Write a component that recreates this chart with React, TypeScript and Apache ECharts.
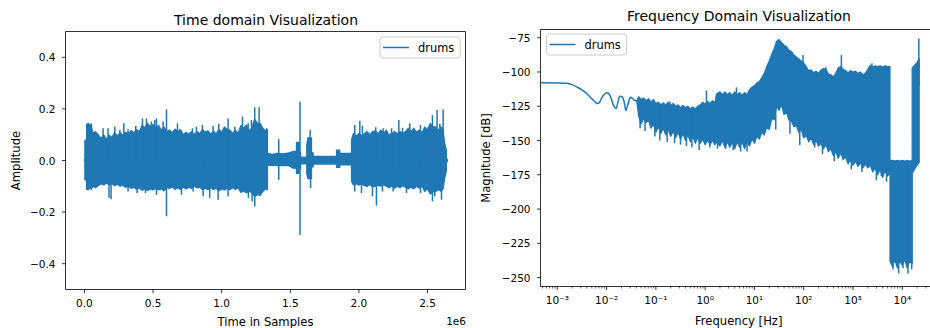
import React, { useEffect, useRef } from 'react';
import * as echarts from 'echarts';

const BLUE = '#1f77b4';
const FONT = 'DejaVu Sans';
const INK = '#000';

// ---------- Time domain (samples, amplitude) ----------
// envelope of the dense waveform; a repeated sample position gives an abrupt step
const TIME_PT = [0, 3000, 3000, 15000, 16000, 30000, 40000, 50000, 60000, 80000, 100000, 120000, 140000, 160000, 180000, 200000, 220000, 240000, 260000, 280000, 300000, 320000, 340000, 360000, 380000, 400000, 420000, 440000, 460000, 480000, 500000, 520000, 540000, 560000, 580000, 600000, 620000, 640000, 660000, 680000, 700000, 720000, 740000, 760000, 780000, 800000, 820000, 840000, 860000, 880000, 900000, 920000, 940000, 960000, 980000, 1000000, 1020000, 1040000, 1060000, 1080000, 1100000, 1120000, 1140000, 1160000, 1180000, 1200000, 1220000, 1240000, 1260000, 1280000, 1300000, 1320000, 1334000,
  1334000, 1370000, 1410000, 1450000, 1490000, 1520000, 1545000, 1545000, 1566000, 1566000, 1576000, 1576000, 1620000, 1620000, 1628000, 1655000, 1655000, 1667000, 1667000, 1750000, 1837000, 1837000, 1861000, 1861000, 1946000,
  1946000, 1960000, 1980000, 2000000, 2020000, 2040000, 2060000, 2080000, 2100000, 2120000, 2140000, 2160000, 2180000, 2200000, 2220000, 2240000, 2260000, 2280000, 2300000, 2320000, 2340000, 2360000, 2380000, 2400000, 2420000, 2440000, 2460000, 2480000, 2500000, 2520000, 2540000, 2560000, 2580000, 2600000, 2614000, 2625000, 2638000, 2638000, 2646000];
const TIME_PT_HI = [0.004, 0.004, 0.078, 0.08, 0.14, 0.144, 0.135, 0.142, 0.105, 0.112, 0.1, 0.085, 0.1, 0.082, 0.098, 0.09, 0.108, 0.095, 0.108, 0.098, 0.11, 0.104, 0.116, 0.108, 0.12, 0.112, 0.136, 0.128, 0.144, 0.132, 0.14, 0.126, 0.136, 0.118, 0.13, 0.112, 0.118, 0.108, 0.122, 0.112, 0.12, 0.1, 0.11, 0.102, 0.112, 0.1, 0.112, 0.104, 0.12, 0.11, 0.115, 0.102, 0.114, 0.104, 0.12, 0.11, 0.13, 0.12, 0.118, 0.105, 0.118, 0.106, 0.136, 0.125, 0.138, 0.116, 0.125, 0.16, 0.145, 0.144, 0.125, 0.115, 0.12,
  0.028, 0.024, 0.028, 0.026, 0.03, 0.035, 0.035, 0.07, 0.07, 0.03, 0.03, 0.013, 0.013, 0.06, 0.088, 0.088, 0.03, 0.03, 0.017, 0.016, 0.017, 0.04, 0.04, 0.028, 0.028,
  0.08, 0.105, 0.095, 0.105, 0.096, 0.104, 0.112, 0.1, 0.112, 0.115, 0.104, 0.118, 0.106, 0.118, 0.098, 0.106, 0.112, 0.104, 0.112, 0.104, 0.112, 0.125, 0.112, 0.125, 0.11, 0.118, 0.108, 0.13, 0.118, 0.144, 0.13, 0.13, 0.118, 0.13, 0.12, 0.068, 0.04, 0.004, 0.004];
const TIME_PT_LO = [-0.004, -0.004, -0.076, -0.07, -0.112, -0.113, -0.105, -0.112, -0.1, -0.106, -0.098, -0.09, -0.095, -0.088, -0.094, -0.09, -0.098, -0.092, -0.1, -0.096, -0.104, -0.1, -0.108, -0.104, -0.112, -0.106, -0.116, -0.11, -0.116, -0.11, -0.114, -0.108, -0.114, -0.11, -0.118, -0.104, -0.108, -0.102, -0.112, -0.106, -0.112, -0.104, -0.11, -0.104, -0.108, -0.1, -0.106, -0.104, -0.113, -0.108, -0.113, -0.106, -0.112, -0.108, -0.118, -0.11, -0.114, -0.108, -0.113, -0.106, -0.112, -0.106, -0.124, -0.118, -0.126, -0.118, -0.125, -0.14, -0.132, -0.135, -0.12, -0.11, -0.113,
  -0.02, -0.018, -0.02, -0.02, -0.02, -0.03, -0.03, -0.05, -0.05, -0.03, -0.03, -0.013, -0.013, -0.05, -0.07, -0.07, -0.025, -0.025, -0.014, -0.013, -0.014, -0.027, -0.027, -0.017, -0.017,
  -0.08, -0.095, -0.09, -0.096, -0.09, -0.098, -0.1, -0.094, -0.102, -0.1, -0.096, -0.1, -0.094, -0.1, -0.106, -0.1, -0.108, -0.1, -0.106, -0.098, -0.104, -0.11, -0.104, -0.11, -0.1, -0.108, -0.1, -0.12, -0.11, -0.13, -0.122, -0.12, -0.112, -0.12, -0.11, -0.07, -0.04, -0.004, -0.004];
const TIME_SPIKE_T = [136000, 172000, 221000, 258000, 287000, 318000, 374000, 423000, 452000, 488000, 513000, 525000, 573000, 598000, 678000, 787000, 816000, 860000, 938000, 979000, 1047000, 1096000, 1152000, 1193000, 1217000, 1241000, 1273000, 1327000, 1416000, 1571000, 1645000, 1970000, 2007000, 2026000, 2123000, 2177000, 2238000, 2291000, 2318000, 2371000, 2449000, 2505000, 2536000, 2570000, 2590000, 2614000,
  179000, 194000, 318000, 384000, 445000, 525000, 598000, 707000, 792000, 865000, 913000, 974000, 1047000, 1195000, 1222000, 1241000, 1416000, 1571000, 1648000, 1970000, 2019000, 2099000, 2128000, 2172000, 2250000, 2347000, 2449000, 2536000, 2553000, 2602000];
const TIME_SPIKE_V = [0.125, 0.125, 0.131, 0.118, 0.144, 0.121, 0.134, 0.163, 0.163, 0.151, 0.157, 0.163, 0.151, 0.198, 0.144, 0.125, 0.131, 0.138, 0.134, 0.142, 0.163, 0.131, 0.17, 0.144, 0.157, 0.206, 0.206, 0.125, 0.083, 0.228, 0.118, 0.138, 0.154, 0.134, 0.129, 0.125, 0.125, 0.157, 0.127, 0.144, 0.138, 0.131, 0.176, 0.196, 0.142, 0.198,
  -0.144, -0.15, -0.12, -0.126, -0.126, -0.133, -0.216, -0.133, -0.12, -0.139, -0.145, -0.152, -0.139, -0.145, -0.158, -0.178, -0.075, -0.289, -0.107, -0.12, -0.126, -0.139, -0.175, -0.12, -0.12, -0.126, -0.126, -0.158, -0.139, -0.152];
const TIME_TICKS = [0, 500000, 1000000, 1500000, 2000000, 2500000];
const AMP_TICKS = [-0.4, -0.2, 0, 0.2, 0.4];

// ---------- Frequency domain (log10 Hz exponents, dB) ----------
const SMOOTH_EXP = [-3.341, -3.0, -2.811, -2.7, -2.608, -2.5, -2.405, -2.3, -2.236, -2.189, -2.15, -2.101, -2.05, -2.0, -1.95, -1.9, -1.865, -1.811, -1.77, -1.73, -1.69, -1.662, -1.63, -1.608, -1.57, -1.53, -1.514, -1.47, -1.426, -1.39];
const SMOOTH_DB = [-107.9, -108.0, -108.3, -109.2, -110.8, -113, -115.7, -119.5, -121.7, -123, -122.5, -119, -116.5, -115.2, -116, -120, -124, -126.6, -122, -117.7, -118, -119.5, -124, -128.1, -124, -119, -118.4, -119.5, -120.8, -121];
// envelope of the dense band (repeated exponent gives the sharp drops)
const BAND_EXP = [-1.39, -1.35, -1.3, -1.25, -1.2, -1.15, -1.1, -1.05, -1.0, -0.95, -0.9, -0.85, -0.8, -0.75, -0.7, -0.65, -0.6, -0.55, -0.5, -0.45, -0.4, -0.35, -0.3, -0.25, -0.2, -0.15, -0.1, -0.05, 0.0, 0.05, 0.1, 0.15, 0.2, 0.23, 0.3, 0.35, 0.4, 0.45, 0.5, 0.55, 0.6, 0.65, 0.7, 0.75, 0.8, 0.85, 0.9, 0.95, 1.0, 1.05, 1.1, 1.15, 1.2, 1.25, 1.3, 1.35, 1.4, 1.45, 1.5, 1.55, 1.6, 1.65, 1.7, 1.75, 1.8, 1.85, 1.9, 1.95, 2.0, 2.05, 2.1, 2.15, 2.2, 2.25, 2.3, 2.35, 2.4, 2.45, 2.5, 2.55, 2.6, 2.65, 2.7, 2.75, 2.8, 2.85, 2.9, 2.95, 3.0, 3.05, 3.1, 3.15, 3.2, 3.25, 3.3, 3.35, 3.4, 3.45, 3.5, 3.55, 3.6, 3.65, 3.7, 3.75, 3.75, 3.8, 3.85, 3.9, 3.95, 4.0, 4.05, 4.1, 4.15, 4.2, 4.2, 4.25, 4.3, 4.343];
const BAND_HI = [-121, -118, -120, -119, -121, -119.5, -122, -120, -123, -122, -124, -122.5, -124, -122, -124.5, -123, -125, -124, -126, -124.5, -126, -125, -127, -125.5, -127, -125, -124, -122, -123.5, -121.5, -123, -121, -122.5, -116, -114.5, -116.5, -114.5, -116.5, -115, -117, -114.5, -116.5, -115, -117, -115, -116.5, -113, -111, -110, -108, -107, -104, -101, -96, -92, -87, -83, -77.5, -76.5, -78.5, -80.5, -81.5, -84, -85, -87.5, -89, -90.5, -92, -93.5, -96, -99, -98.5, -100.5, -99.5, -101, -98.5, -97.5, -98, -101.5, -102, -103.5, -101, -97, -96, -98, -99, -100.5, -99, -100, -99.5, -101, -100, -102, -101, -98, -95, -96.5, -95.5, -96, -95.5, -96.5, -95.5, -96, -96, -164.5, -164.5, -165, -164.5, -165, -164.5, -165, -164.5, -165, -164.5, -97, -95, -93, -90];
const BAND_LO = [-121, -132, -138, -134, -137, -135, -141, -138, -144, -140, -145, -141, -146, -142, -147, -143, -148, -144, -149, -145, -150, -146, -151, -147, -152, -148, -152, -149, -153, -150, -153, -150, -153, -151, -154, -150, -155, -151, -155, -151, -156, -151, -155, -151, -156, -151, -154, -149, -152, -147, -149, -144, -146, -140, -142, -134, -135, -125, -128, -124, -131, -129, -135, -136, -140, -139, -144, -142, -148, -146, -151, -148, -153, -150, -154, -152, -156, -153, -158, -156, -161, -158, -163, -159, -164, -162, -167, -164, -168, -165, -169, -166, -170, -167, -170, -168, -173, -170, -175, -171, -177, -172, -176, -174, -238, -242, -237, -243, -238, -241, -237, -243, -238, -240, -174, -171, -168, -166];
const SPIKE_EXP = [-1.32, -1.22, -1.02, -0.92, -0.77, -0.716, -0.62, -0.5, -0.38, -0.27, -0.122, 0.027, 0.095, 0.25, 0.419, 0.568, 0.635, 0.72, 0.851, 1.0, 1.432, 1.49, 1.72, 1.919, 1.986, 2.223, 2.38, 2.446, 2.62, 2.764, 2.966, 3.18, 3.385, 3.473, 3.574, 3.68, 3.811, 3.926, 4.014, 4.115, 4.19, 4.335];
const SPIKE_TOP = [-121, -120, -124, -123, -125, -121.5, -125, -126, -126, -126, -126, -113.5, -125, -118, -120, -120, -111.3, -120, -120, -110, -100, -76, -100, -100, -87.6, -110, -110, -96.5, -110, -87.7, -110, -110, -93.7, -110, -110, -110, -170, -170, -170, -170, -170, -75.5];
const SPIKE_BOT = [-141, -143, -147, -150, -151, -135, -152, -153, -154, -155, -157, -140, -155, -156, -156, -157, -130, -158, -158, -152, -142, -100, -145, -153.4, -110, -155, -160, -110, -165, -110, -171, -173, -110, -179, -176, -180, -244, -247, -243, -247, -244, -110];
const DB_TICKS = [-250, -225, -200, -175, -150, -125, -100, -75];
const DECADE_EXP = [-3, -2, -1, 0, 1, 2, 3, 4];

const T_MIN = -138000, T_MAX = 2777000;
const F_MIN = 4.56e-4, F_MAX = 50580;
const DB_MIN = -256.5, DB_MAX = -69;

const SUP: Record<string, string> = { '-': '⁻', '0': '⁰', '1': '¹', '2': '²', '3': '³', '4': '⁴', '5': '⁵', '6': '⁶', '7': '⁷', '8': '⁸', '9': '⁹' };
const minus = (s: string) => s.replace('-', '−');

function spikeItem(_p: any, api: any) {
  const a = api.coord([api.value(0), api.value(1)]);
  const b = api.coord([api.value(0), api.value(2)]);
  return { type: 'line', shape: { x1: a[0], y1: a[1], x2: b[0], y2: b[1] }, style: { stroke: BLUE, lineWidth: 1.5 } };
}
// one polygon through every envelope point: top edge left→right, bottom edge right→left
function bandRenderer(points: number[][]) {
  return (params: any, api: any) => {
    if (params.dataIndex !== 0) return null;
    const top = points.map((p) => api.coord([p[0], p[1]]));
    const bot = points.map((p) => api.coord([p[0], p[2]])).reverse();
    return { type: 'polygon', shape: { points: [...top, ...bot] }, style: { fill: BLUE, stroke: BLUE, lineWidth: 1.2, lineJoin: 'round' } };
  };
}
// ticks: [kind, value]; kind 0 = x major, 1 = y major, 2 = x minor
function tickRenderer(xMin: number, yMin: number) {
  return (_p: any, api: any) => {
    const kind = api.value(0);
    const v = api.value(1);
    if (kind === 1) {
      const p = api.coord([xMin, v]);
      return { type: 'line', shape: { x1: p[0] - 3.5, y1: p[1], x2: p[0], y2: p[1] }, style: { stroke: INK, lineWidth: 0.8 } };
    }
    const p = api.coord([v, yMin]);
    const len = kind === 2 ? 2 : 3.5;
    return { type: 'line', shape: { x1: p[0], y1: p[1], x2: p[0], y2: p[1] + len }, style: { stroke: INK, lineWidth: kind === 2 ? 0.6 : 0.8 } };
  };
}

function buildOption() {
  const timeEnv = TIME_PT.map((t, i) => [t, TIME_PT_HI[i], TIME_PT_LO[i]]);
  const timeSpikes = TIME_SPIKE_T.map((t, i) => [t, 0, TIME_SPIKE_V[i]]);
  const smooth = SMOOTH_EXP.map((e, i) => [Math.pow(10, e), SMOOTH_DB[i]]);
  const band = BAND_EXP.map((e, i) => [Math.pow(10, e), BAND_HI[i], BAND_LO[i]]);
  const bandSpikes = SPIKE_EXP.map((e, i) => [Math.pow(10, e), SPIKE_TOP[i], SPIKE_BOT[i]]);

  const ticks0 = [...TIME_TICKS.map((v) => [0, v]), ...AMP_TICKS.map((v) => [1, v])];
  const minor: number[] = [];
  for (let k = -4; k <= 4; k++) for (let m = 2; m <= 9; m++) {
    const v = m * Math.pow(10, k);
    if (v > F_MIN && v < F_MAX) minor.push(v);
  }
  const ticks1 = [...DECADE_EXP.map((e) => [0, Math.pow(10, e)]), ...minor.map((v) => [2, v]), ...DB_TICKS.map((v) => [1, v])];

  const labelBase = { fontFamily: FONT, fontSize: 10.5, color: INK, showMinLabel: false, showMaxLabel: false };
  const nameStyle = { fontFamily: FONT, fontSize: 11.6, color: INK };
  const legendBase = {
    data: ['drums'], icon: 'rect', itemWidth: 26, itemHeight: 1.5, selectedMode: false,
    padding: [4, 6, 4, 3], borderColor: '#cccccc', borderWidth: 1, borderRadius: 3,
    backgroundColor: 'rgba(255,255,255,0.8)',
    textStyle: { fontFamily: FONT, fontSize: 11.4, color: INK, lineHeight: 13, padding: [0, 0, 0, 4] },
  };

  return {
    animation: false,
    backgroundColor: '#ffffff',
    grid: [
      { left: 65.5, top: 31.5, width: 400, height: 258, show: true, borderColor: '#333', borderWidth: 1, containLabel: false, outerBoundsMode: 'none' },
      { left: 540.5, top: 29.5, width: 396.5, height: 257, show: true, borderColor: '#333', borderWidth: 1, containLabel: false, outerBoundsMode: 'none' },
    ],
    legend: [
      { ...legendBase, left: 380, top: 37 },
      { ...legendBase, left: 546.5, top: 34 },
    ],
    xAxis: [
      {
        type: 'value', gridIndex: 0, min: T_MIN, max: T_MAX,
        axisLine: { show: false }, axisTick: { show: false }, splitLine: { show: false },
        axisLabel: { ...labelBase, margin: 8, formatter: (v: number) => (v / 1e6).toFixed(1) },
        name: 'Time in Samples', nameLocation: 'middle', nameGap: 26, nameTextStyle: nameStyle,
      },
      {
        type: 'log', logBase: 10, gridIndex: 1, min: F_MIN, max: F_MAX,
        axisLine: { show: false }, axisTick: { show: false }, splitLine: { show: false }, minorTick: { show: false },
        axisLabel: {
          ...labelBase, margin: 8,
          formatter: (v: number) => {
            const e = Math.log10(v);
            const r = Math.round(e);
            if (Math.abs(e - r) > 1e-6) return '';
            return '10' + String(r).split('').map((c) => SUP[c]).join('');
          },
        },
        name: 'Frequency [Hz]', nameLocation: 'middle', nameGap: 28, nameTextStyle: nameStyle,
      },
    ],
    yAxis: [
      {
        type: 'value', gridIndex: 0, min: -0.5, max: 0.5,
        axisLine: { show: false }, axisTick: { show: false }, splitLine: { show: false },
        axisLabel: { ...labelBase, margin: 10, formatter: (v: number) => (Math.abs(v) < 1e-9 ? '0.0' : minus(v.toFixed(1))) },
        name: 'Amplitude', nameLocation: 'middle', nameGap: 44, nameRotate: 90, nameTextStyle: nameStyle,
      },
      {
        type: 'value', gridIndex: 1, min: DB_MIN, max: DB_MAX, interval: 0.5,
        axisLine: { show: false }, axisTick: { show: false }, splitLine: { show: false },
        axisLabel: {
          ...labelBase, margin: 10,
          formatter: (v: number) => {
            const r = Math.round(v);
            if (Math.abs(v - r) > 1e-6 || r % 25 !== 0) return '';
            return minus(String(r));
          },
        },
        name: 'Magnitude [dB]', nameLocation: 'middle', nameGap: 49, nameRotate: 90, nameTextStyle: nameStyle,
      },
    ],
    graphic: [
      { type: 'text', x: 266, y: 19.5, style: { text: 'Time domain Visualization', fill: INK, fontFamily: FONT, fontSize: 14, textAlign: 'center', textVerticalAlign: 'middle', verticalAlign: 'middle' } },
      { type: 'text', x: 739, y: 16.2, style: { text: 'Frequency Domain Visualization', fill: INK, fontFamily: FONT, fontSize: 14, textAlign: 'center', textVerticalAlign: 'middle', verticalAlign: 'middle' } },
      { type: 'text', x: 466, y: 320.7, style: { text: '1e6', fill: INK, fontFamily: FONT, fontSize: 10.5, textAlign: 'right', textVerticalAlign: 'middle', verticalAlign: 'middle' } },
    ],
    series: [
      { name: 'drums', type: 'custom', xAxisIndex: 0, yAxisIndex: 0, data: timeEnv, encode: { x: 0, y: [1, 2] }, renderItem: bandRenderer(timeEnv), itemStyle: { color: BLUE }, silent: true },
      { name: 'drums', type: 'custom', xAxisIndex: 0, yAxisIndex: 0, data: timeSpikes, encode: { x: 0, y: [1, 2] }, renderItem: spikeItem, itemStyle: { color: BLUE }, silent: true },
      { name: 'drums', type: 'line', xAxisIndex: 1, yAxisIndex: 1, data: smooth, showSymbol: false, symbol: 'none', smooth: 0.35, lineStyle: { color: BLUE, width: 1.5 }, itemStyle: { color: BLUE }, silent: true },
      { name: 'drums', type: 'custom', xAxisIndex: 1, yAxisIndex: 1, data: band, encode: { x: 0, y: [1, 2] }, renderItem: bandRenderer(band), itemStyle: { color: BLUE }, silent: true },
      { name: 'drums', type: 'custom', xAxisIndex: 1, yAxisIndex: 1, data: bandSpikes, encode: { x: 0, y: [1, 2] }, renderItem: spikeItem, itemStyle: { color: BLUE }, silent: true },
      { name: 'ticks0', type: 'custom', xAxisIndex: 0, yAxisIndex: 0, data: ticks0, renderItem: tickRenderer(T_MIN, -0.5), silent: true, clip: false },
      { name: 'ticks1', type: 'custom', xAxisIndex: 1, yAxisIndex: 1, data: ticks1, renderItem: tickRenderer(F_MIN, DB_MIN), silent: true, clip: false },
    ],
  };
}

export default function App() {
  const ref = useRef<HTMLDivElement>(null);
  useEffect(() => {
    const chart = echarts.init(ref.current as HTMLDivElement, null, { renderer: 'svg' });
    chart.setOption(buildOption() as any);
    return () => chart.dispose();
  }, []);
  return <div ref={ref} style={{ position: 'absolute', left: 0, top: 0, width: 930, height: 328, background: '#fff' }} />;
}
